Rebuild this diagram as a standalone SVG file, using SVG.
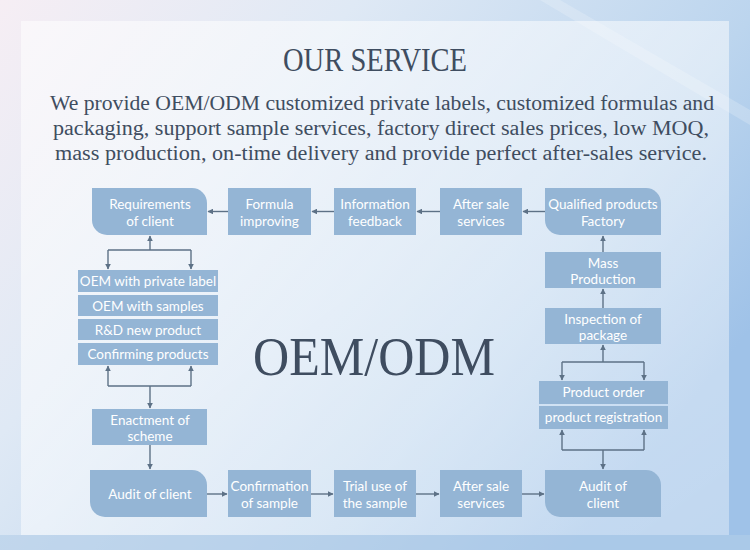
<svg xmlns="http://www.w3.org/2000/svg" width="750" height="550" viewBox="0 0 750 550">
<defs>
<linearGradient id="bg" x1="0" y1="0" x2="1" y2="0.6">
<stop offset="0" stop-color="#f6eef4"/>
<stop offset="0.35" stop-color="#dfe9f5"/>
<stop offset="0.75" stop-color="#bcd5ee"/>
<stop offset="1" stop-color="#9fc2e8"/>
</linearGradient>
<linearGradient id="panel" x1="0" y1="0" x2="1" y2="1">
<stop offset="0" stop-color="#ffffff" stop-opacity="0.55"/>
<stop offset="0.5" stop-color="#ffffff" stop-opacity="0.5"/>
<stop offset="1" stop-color="#ffffff" stop-opacity="0.35"/>
</linearGradient>
<marker id="ah" viewBox="0 0 10 10" refX="9" refY="5" markerWidth="4.2" markerHeight="4.2" orient="auto">
<path d="M0,0 L10,5 L0,10 z" fill="#5d7186"/>
</marker>
<style>
.box{fill:#94b5d5}
.lbl{font-family:Lato,"Noto Sans",sans-serif;font-size:13.5px;fill:#ffffff;text-anchor:middle}
.con{fill:none;stroke:#5d7186;stroke-width:1.4}
.arr{marker-end:url(#ah)}
.serif{font-family:"Liberation Serif","DejaVu Serif",serif;fill:#3f4d60}
</style>
</defs>
<rect width="750" height="550" fill="url(#bg)"/>
<rect x="0" y="535" width="750" height="15" fill="#b3cde8" opacity="0.6"/>
<rect x="21" y="21" width="708" height="514" fill="url(#panel)"/>
<path d="M560,0 L750,110 L750,125 L540,0 z" fill="#ffffff" opacity="0.2"/>

<text class="serif" x="375" y="71" font-size="34" text-anchor="middle" textLength="184" lengthAdjust="spacingAndGlyphs">OUR SERVICE</text>
<text class="serif" x="50" y="110" font-size="20" textLength="664" lengthAdjust="spacingAndGlyphs">We provide OEM/ODM customized private labels, customized formulas and</text>
<text class="serif" x="53" y="135" font-size="20" textLength="656" lengthAdjust="spacingAndGlyphs">packaging, support sample services, factory direct sales prices, low MOQ,</text>
<text class="serif" x="55" y="160" font-size="20" textLength="652" lengthAdjust="spacingAndGlyphs">mass production, on-time delivery and provide perfect after-sales service.</text>
<text class="serif" x="374" y="375" font-size="54" text-anchor="middle" textLength="242" lengthAdjust="spacingAndGlyphs">OEM/ODM</text>

<g id="connectors">
<path class="con arr" d="M228,211.5 H208"/>
<path class="con arr" d="M334,211.5 H312"/>
<path class="con arr" d="M440,211.5 H417"/>
<path class="con arr" d="M545,211.5 H523"/>
<path class="con arr" d="M150,250 V236"/>
<path class="con" d="M108,250 H191"/>
<path class="con arr" d="M108,250 V269"/>
<path class="con arr" d="M191,250 V269"/>
<path class="con" d="M108,386 H191"/>
<path class="con arr" d="M108,386 V366"/>
<path class="con arr" d="M191,386 V366"/>
<path class="con arr" d="M150,386 V408"/>
<path class="con arr" d="M150,445 V469"/>
<path class="con arr" d="M207,494 H227"/>
<path class="con arr" d="M311,494 H333"/>
<path class="con arr" d="M416,494 H439"/>
<path class="con arr" d="M522,494 H544"/>
<path class="con arr" d="M603,252 V236"/>
<path class="con arr" d="M603,308 V289"/>
<path class="con arr" d="M603,362 V345"/>
<path class="con" d="M562,362 H644"/>
<path class="con arr" d="M562,362 V380"/>
<path class="con arr" d="M644,362 V380"/>
<path class="con" d="M562,450 H644"/>
<path class="con arr" d="M562,450 V430"/>
<path class="con arr" d="M644,450 V430"/>
<path class="con arr" d="M603,450 V469"/>
</g>

<g id="n-requirements">
<path class="box" d="M92,188 H192 A15,15 0 0 1 207,203 V235 H107 A15,15 0 0 1 92,220 Z"/>
<text class="lbl" x="150" y="208.5">Requirements</text>
<text class="lbl" x="150" y="225.5">of client</text>
</g>
<g id="n-formula">
<rect class="box" x="228" y="188" width="83" height="47"/>
<text class="lbl" x="269.5" y="208.5">Formula</text>
<text class="lbl" x="269.5" y="225.5">improving</text>
</g>
<g id="n-info">
<rect class="box" x="334" y="188" width="82" height="47"/>
<text class="lbl" x="375" y="208.5">Information</text>
<text class="lbl" x="375" y="225.5">feedback</text>
</g>
<g id="n-aftersale-top">
<rect class="box" x="440" y="188" width="82" height="47"/>
<text class="lbl" x="481" y="208.5">After sale</text>
<text class="lbl" x="481" y="225.5">services</text>
</g>
<g id="n-qualified">
<path class="box" d="M545,188 H646 A15,15 0 0 1 661,203 V235 H560 A15,15 0 0 1 545,220 Z"/>
<text class="lbl" x="603" y="208.5">Qualified products</text>
<text class="lbl" x="603" y="225.5">Factory</text>
</g>
<g id="n-oem-private">
<rect class="box" x="78" y="270" width="140" height="22"/>
<text class="lbl" x="148" y="286">OEM with private label</text>
</g>
<g id="n-oem-samples">
<rect class="box" x="78" y="295" width="140" height="21"/>
<text class="lbl" x="148" y="310.5">OEM with samples</text>
</g>
<g id="n-rd">
<rect class="box" x="78" y="319" width="140" height="21"/>
<text class="lbl" x="148" y="334.5">R&amp;D new product</text>
</g>
<g id="n-confirming">
<rect class="box" x="78" y="343" width="140" height="22"/>
<text class="lbl" x="148" y="359">Confirming products</text>
</g>
<g id="n-enactment">
<rect class="box" x="92" y="409" width="115" height="36"/>
<text class="lbl" x="150" y="424.5">Enactment of</text>
<text class="lbl" x="150" y="440.5">scheme</text>
</g>
<g id="n-audit-left">
<path class="box" d="M90,470 H192 A15,15 0 0 1 207,485 V517 H105 A15,15 0 0 1 90,502 Z"/>
<text class="lbl" x="150" y="499">Audit of client</text>
</g>
<g id="n-confirmation">
<rect class="box" x="228" y="470" width="83" height="47"/>
<text class="lbl" x="269.5" y="490.5">Confirmation</text>
<text class="lbl" x="269.5" y="507.5">of sample</text>
</g>
<g id="n-trial">
<rect class="box" x="334" y="470" width="82" height="47"/>
<text class="lbl" x="375" y="490.5">Trial use of</text>
<text class="lbl" x="375" y="507.5">the sample</text>
</g>
<g id="n-aftersale-bottom">
<rect class="box" x="440" y="470" width="82" height="47"/>
<text class="lbl" x="481" y="490.5">After sale</text>
<text class="lbl" x="481" y="507.5">services</text>
</g>
<g id="n-audit-right">
<path class="box" d="M545,470 H646 A15,15 0 0 1 661,485 V517 H560 A15,15 0 0 1 545,502 Z"/>
<text class="lbl" x="603" y="490.5">Audit of</text>
<text class="lbl" x="603" y="507.5">client</text>
</g>
<g id="n-mass">
<rect class="box" x="545" y="252" width="116" height="36"/>
<text class="lbl" x="603" y="267.5">Mass</text>
<text class="lbl" x="603" y="283.5">Production</text>
</g>
<g id="n-inspection">
<rect class="box" x="545" y="308" width="116" height="36"/>
<text class="lbl" x="603" y="323.5">Inspection of</text>
<text class="lbl" x="603" y="339.5">package</text>
</g>
<g id="n-order">
<rect class="box" x="539" y="381" width="129" height="23"/>
<text class="lbl" x="603.5" y="397">Product order</text>
</g>
<g id="n-registration">
<rect class="box" x="539" y="406" width="129" height="23"/>
<text class="lbl" x="603.5" y="422">product registration</text>
</g>
</svg>
